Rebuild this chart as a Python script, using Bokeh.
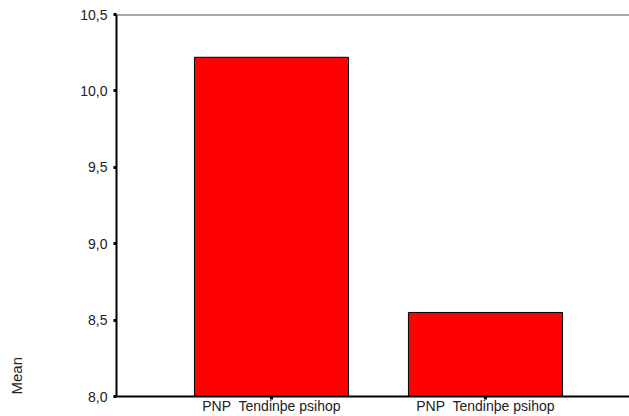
from bokeh.plotting import figure
from bokeh.models import Range1d, FixedTicker, Span, Title
from bokeh.embed import file_html
from bokeh.resources import INLINE

categories = ["PNP\u00a0 Tendinþe psihop", "PNP\u00a0 Tendinþe psihop"]
positions = [1, 2]
means = [10.22, 8.55]
y_ticks = [8.0, 8.5, 9.0, 9.5, 10.0, 10.5]
y_tick_labels = ["8,0", "8,5", "9,0", "9,5", "10,0", "10,5"]
y_min, y_max = 8.0, 10.5
x_start, x_end = 0.2757, 2.673

FONT = "Liberation Sans"

p = figure(width=629, height=416, output_backend="svg", toolbar_location=None,
           x_range=Range1d(x_start, x_end), y_range=Range1d(y_min, y_max),
           min_border_left=116, min_border_right=0, min_border_top=14, min_border_bottom=0)
p.outline_line_color = None
p.grid.visible = False
p.background_fill_color = "white"
p.border_fill_color = "white"

p.vbar(x=positions, top=means, bottom=y_min, width=0.72,
       fill_color="#ff0000", line_color="black", line_width=1)

p.yaxis.ticker = FixedTicker(ticks=y_ticks)
p.yaxis.major_label_overrides = {t: l for t, l in zip(y_ticks, y_tick_labels)}
p.xaxis.ticker = FixedTicker(ticks=positions)
p.xaxis.major_label_overrides = {x: c for x, c in zip(positions, categories)}

for ax in (p.xaxis[0], p.yaxis[0]):
    ax.axis_line_color = "black"
    ax.axis_line_width = 2
    ax.major_tick_in = 0
    ax.major_tick_out = 3
    ax.major_tick_line_width = 3
    ax.major_tick_line_color = "black"
    ax.minor_tick_line_color = None
    ax.major_label_text_font = FONT
    ax.major_label_text_font_size = "14px"
    ax.major_label_text_color = "#222222"

p.yaxis.major_label_standoff = 6
p.xaxis.major_label_standoff = -2
# blank axis label used only as spacer so the "Mean" title sits at the far left
p.yaxis.axis_label = " "
p.yaxis.axis_label_text_font_size = "2px"
p.yaxis.axis_label_standoff = 47

top_line = Span(location=y_max, dimension="width", line_color="#555555", line_width=2)
p.add_layout(top_line)

mean_title = Title(text="Mean", align="left", standoff=2,
                   text_font=FONT, text_font_size="15px", text_font_style="normal",
                   text_color="#222222", offset=2)
p.add_layout(mean_title, "left")

open("out.html", "w").write(file_html(p, INLINE))
